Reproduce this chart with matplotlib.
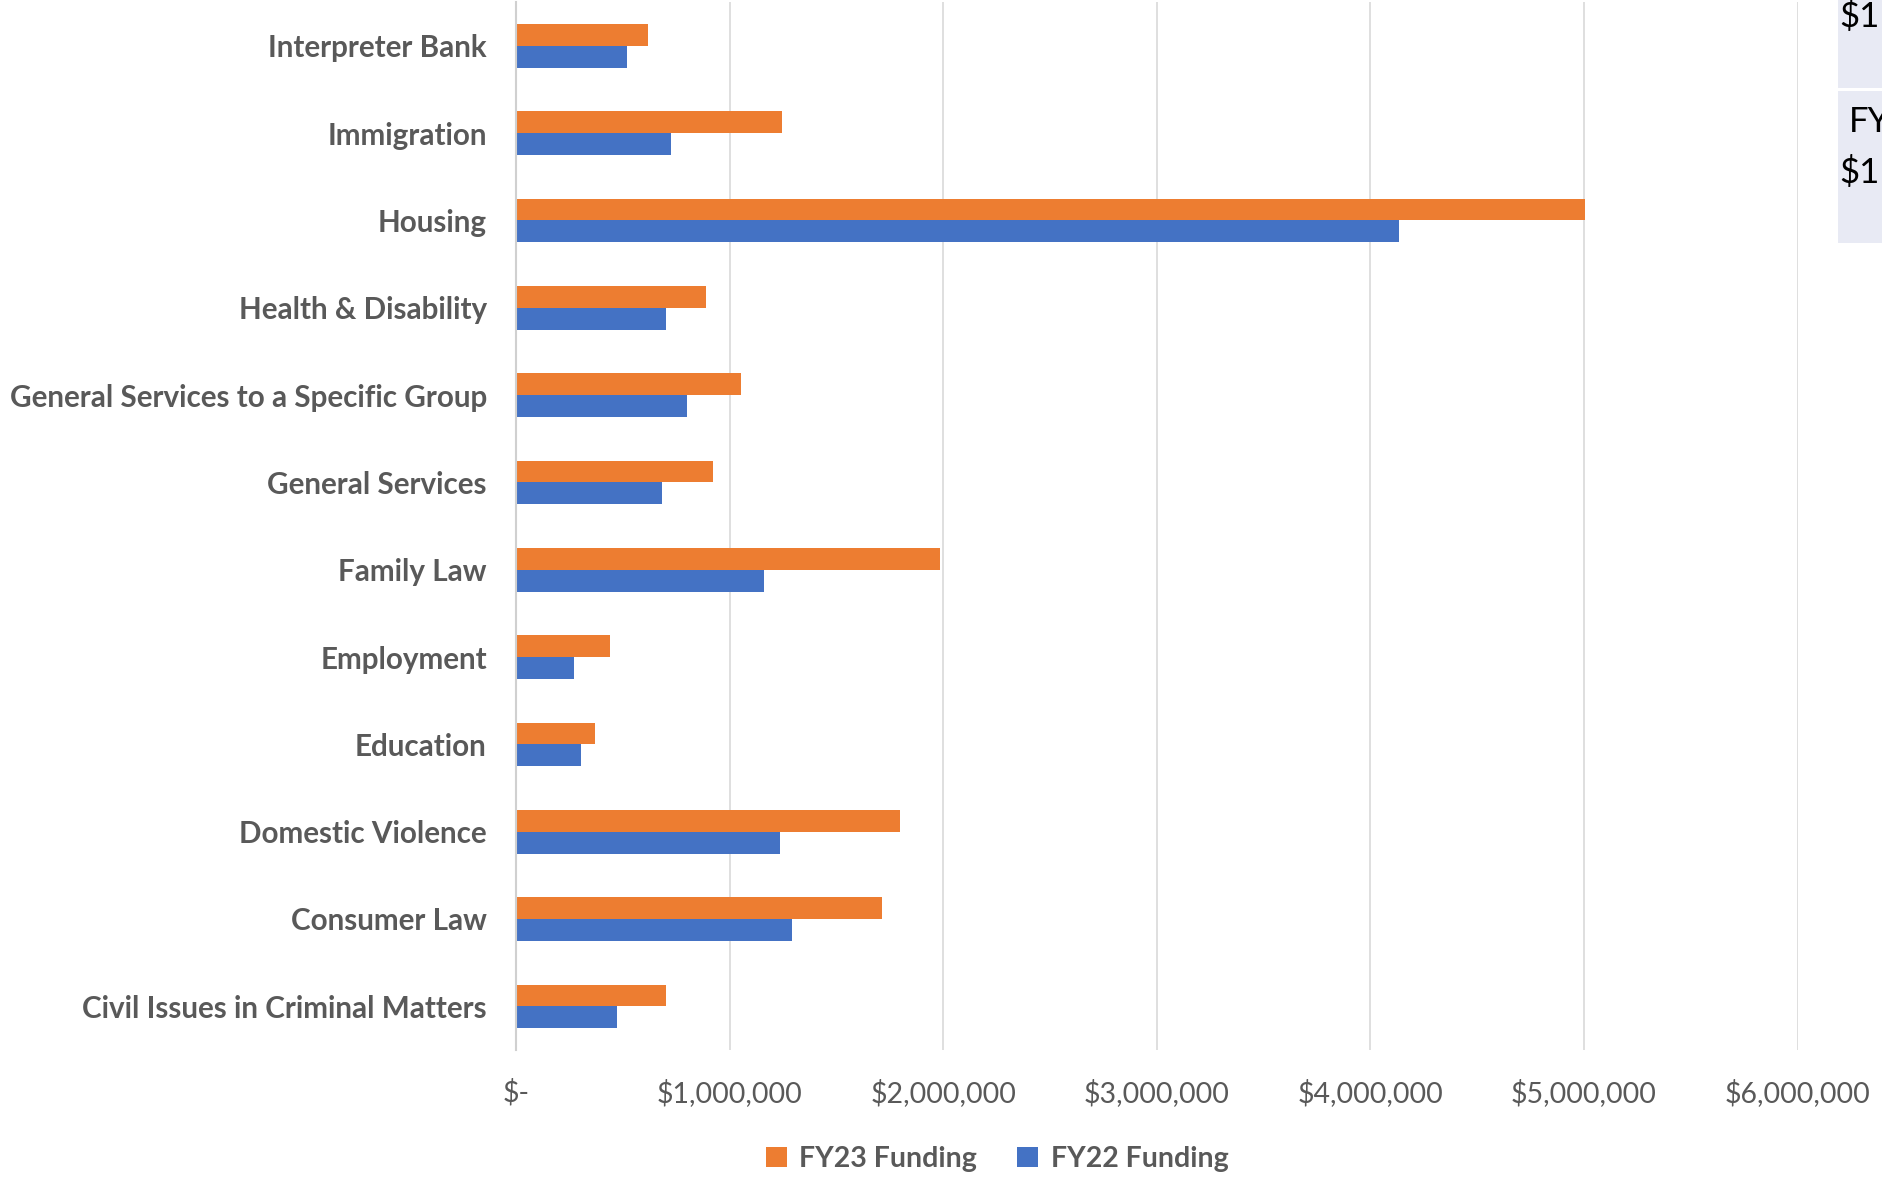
import matplotlib
matplotlib.use("Agg")
import matplotlib.pyplot as plt
from matplotlib.patches import Rectangle
from matplotlib.ticker import FuncFormatter, MultipleLocator

# Funding by legal-aid practice area (listed bottom to top as plotted)
categories = [
    "Civil Issues in Criminal Matters",
    "Consumer Law",
    "Domestic Violence",
    "Education",
    "Employment",
    "Family Law",
    "General Services",
    "General Services to a Specific Group",
    "Health & Disability",
    "Housing",
    "Immigration",
    "Interpreter Bank",
]
fy23_funding = [700000, 1715000, 1800000, 372000, 441000, 1983000,
                924000, 1052000, 890000, 5005000, 1243000, 618000]
fy22_funding = [471000, 1294000, 1235000, 305000, 270000, 1160000,
                683000, 800000, 701000, 4132000, 725000, 522000]
series_labels = ["FY23 Funding", "FY22 Funding"]
x_max = 6000000
x_step = 1000000

ORANGE = "#ED7D31"
BLUE = "#4472C4"
TEXT = "#595959"
GRID = "#D9D9D9"
FONT = "Lato"

W, H = 1882, 1182
fig = plt.figure(figsize=(W / 100, H / 100), dpi=100)
ax = fig.add_axes([516 / W, 1 - 1050 / H, (1797.6 - 516) / W, (1050 - 2) / H])

ypos = list(range(len(categories)))
bar_h = 0.25
ax.barh([y + bar_h / 2 for y in ypos], fy23_funding, height=bar_h,
        color=ORANGE, label=series_labels[0], zorder=3)
ax.barh([y - bar_h / 2 for y in ypos], fy22_funding, height=bar_h,
        color=BLUE, label=series_labels[1], zorder=3)

ax.set_xlim(0, x_max)
ax.set_ylim(-0.5, len(categories) - 0.5)
ax.xaxis.set_major_locator(MultipleLocator(x_step))


def money(v, _pos):
    return "$-" if v == 0 else f"${v:,.0f}"


ax.xaxis.set_major_formatter(FuncFormatter(money))
ax.set_yticks(ypos)
ax.set_yticklabels(categories)

for lab in ax.get_yticklabels():
    lab.set_fontfamily(FONT)
    lab.set_fontweight("bold")
    lab.set_fontsize(21.3)
    lab.set_color(TEXT)
for lab in ax.get_xticklabels():
    lab.set_fontfamily(FONT)
    lab.set_fontsize(20.5)
    lab.set_color(TEXT)

ax.tick_params(axis="y", length=0, pad=21)
ax.tick_params(axis="x", length=0, pad=21)

ax.grid(axis="x", color=GRID, linewidth=1.2, zorder=0)
ax.set_axisbelow(True)
for side in ("top", "right", "bottom"):
    ax.spines[side].set_visible(False)
ax.spines["left"].set_color("#D0D0D0")
ax.spines["left"].set_linewidth(1.5)
ax.spines["left"].set_zorder(4)

handles, labels = ax.get_legend_handles_labels()
leg = fig.legend(handles, labels, loc="center", bbox_to_anchor=(997 / W, 1 - 1159 / H),
                 ncol=2, frameon=False, handlelength=0.75, handleheight=0.75,
                 handletextpad=0.43, columnspacing=1.4,
                 prop={"family": FONT, "weight": "bold", "size": 20.5})
for t in leg.get_texts():
    t.set_color(TEXT)

# Side note panel at the right edge of the page
panel_color = "#E8EAF4"
fig.patches.append(Rectangle((1838 / W, 1 - 88 / H), (W - 1838) / W, 88 / H,
                             transform=fig.transFigure, facecolor=panel_color,
                             edgecolor="none", zorder=0))
fig.patches.append(Rectangle((1838 / W, 1 - 243 / H), (W - 1838) / W, (243 - 91) / H,
                             transform=fig.transFigure, facecolor=panel_color,
                             edgecolor="none", zorder=0))
fig.text(1839 / W, 1 - 27 / H, "$1", fontsize=25, family=FONT, color="black",
         va="baseline", ha="left")
fig.text(1849 / W, 1 - 132 / H, "FY", fontsize=25, family=FONT, color="black",
         va="baseline", ha="left")
fig.text(1839 / W, 1 - 183 / H, "$1", fontsize=25, family=FONT, color="black",
         va="baseline", ha="left")

fig.savefig("out.png", dpi=100, facecolor="white")
